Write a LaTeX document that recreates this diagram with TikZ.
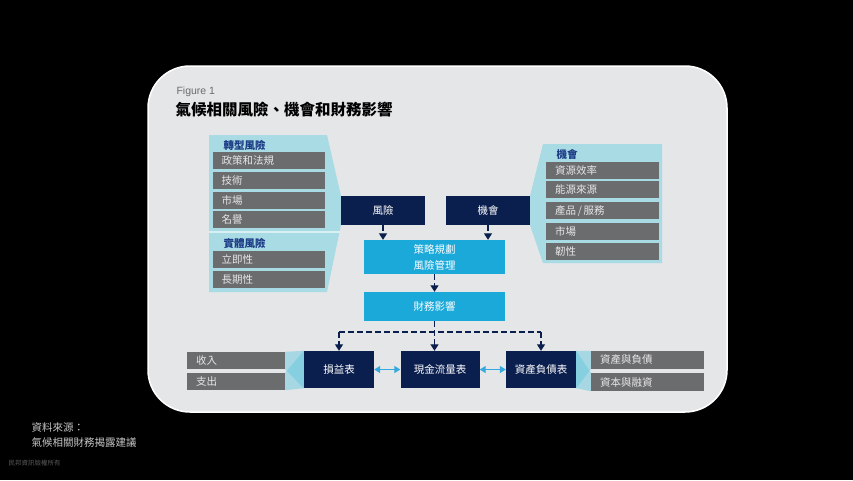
\documentclass[tikz,border=0pt]{standalone}
\usepackage{fontspec}
\setmainfont{Noto Sans CJK TC}
\newfontfamily\latinfont{Liberation Sans}
\usepackage{xcolor}
\usetikzlibrary{arrows.meta}

\definecolor{navybox}{HTML}{0B1F4E}
\definecolor{cyanbox}{HTML}{1BA9D9}
\definecolor{panelcyan}{HTML}{A8DBE4}
\definecolor{funnelcyan}{HTML}{5CC6DE}
\definecolor{graybox}{HTML}{6B6C6E}
\definecolor{grayfont}{HTML}{E6E6E6}
\definecolor{hdrblue}{HTML}{1D3C86}
\definecolor{panelbg}{HTML}{E5E6E8}
\definecolor{dblcyan}{HTML}{35A9DD}

\tikzset{
  graybox/.style={fill=graybox,text=grayfont,minimum height=17pt,inner xsep=9pt,inner ysep=0pt,
    text width=#1,align=left,font=\fontsize{10.5}{12}\selectfont},
  hdr/.style={anchor=west,text=hdrblue,font=\fontsize{10.5}{12}\bfseries},
  navy/.style={fill=navybox,text=white,minimum width=#1,minimum height=29pt,inner sep=0pt,
    font=\fontsize{10.5}{12}\selectfont},
  bluebox/.style={fill=cyanbox,text=white,minimum width=141pt,inner sep=0pt,align=center,
    font=\fontsize{10.5}{16}\selectfont},
  dashline/.style={navybox,line width=1.3pt,dash pattern=on 5.5pt off 3.5pt},
  dasharrow/.style={dashline,-{Triangle[length=6.5pt,width=8pt]}},
  dblarrow/.style={dblcyan,line width=1.3pt,{Triangle[length=6pt,width=7pt]}-{Triangle[length=6pt,width=7pt]}},
  funnel/.style={fill=funnelcyan,fill opacity=0.45}
}

\begin{document}
\begin{tikzpicture}
  [x=1pt,y=-1pt]
  \fill[black] (0,0) rectangle (853,480);
  \useasboundingbox (0,0) rectangle (853,480);

  % card
  \fill[panelbg,rounded corners=42pt] (148,66) rectangle (727,412);
  \draw[white,line width=1.5pt,rounded corners=42pt] (148,66) rectangle (727,412);

  \node[anchor=west,text=gray!85!black,font=\latinfont\fontsize{10.5}{12}\selectfont] (fig) at (173,92) {Figure 1};
  \node[anchor=west,font=\fontsize{15.5}{18}\bfseries] (title) at (172,110) {氣候相關風險、機會和財務影響};

  % side panels
  \fill[panelcyan] (209,135) -- (327,135) -- (341,196) -- (341,225) -- (327,292) -- (209,292) -- cycle;
  \draw[white!55!panelcyan,line width=1.5pt] (209,232) -- (339.5,232);
  \fill[panelcyan] (530,196) -- (543,144) -- (662,144) -- (662,263) -- (543,263) -- (530,225) -- cycle;

  % risks
  \node[hdr] (transition) at (220,145) {轉型風險};
  \foreach \name/\txt/\y in {policy/政策和法規/160.5,tech/技術/180.5,market/市場/200.5,
      reputation/名譽/219.5,acute/立即性/259.5,chronic/長期性/279.5}
    \node[graybox=94pt] (\name) at (268.5,\y) {\txt};
  \node[hdr] (physical) at (220,243) {實體風險};

  % opportunities
  \node[hdr] (opphdr) at (553,154) {機會};
  \foreach \name/\txt/\y in {efficiency/資源效率/170,energy/能源來源/189.5,
      products/{產品\,/\,服務}/210.5,markets/市場/231,resilience/韌性/251}
    \node[graybox=95pt] (\name) at (602.5,\y) {\txt};

  % centre column
  \node[navy=84pt] (risk) at (383,210.5) {風險};
  \node[navy=84pt] (opp) at (488,210.5) {機會};
  \node[bluebox,minimum height=34pt] (strat) at (434.5,257) {策略規劃\\風險管理};
  \node[bluebox,minimum height=29pt] (fin) at (434.5,306.5) {財務影響};

  % statements
  \node[navy=70pt,minimum height=37pt] (pl) at (339,369.5) {損益表};
  \node[navy=79pt,minimum height=37pt] (cash) at (440,369.5) {現金流量表};
  \node[navy=70pt,minimum height=37pt] (bs) at (541,369.5) {資產負債表};
  \node[graybox=80pt] (income) at (236,360.5) {收入};
  \node[graybox=80pt] (expense) at (236,381.5) {支出};
  \node[graybox=95pt,minimum height=18pt] (assets) at (647.5,360) {資產與負債};
  \node[graybox=95pt,minimum height=18pt] (capital) at (647.5,382) {資本與融資};

  \fill[funnel] (income.north east) -- (pl.north west) -- (pl.south west) -- (income.south east) -- cycle;
  \fill[funnel] (expense.north east) -- (pl.north west) -- (pl.south west) -- (expense.south east) -- cycle;
  \fill[funnel] (bs.north east) -- (assets.north west) -- (assets.south west) -- (bs.south east) -- cycle;
  \fill[funnel] (bs.north east) -- (capital.north west) -- (capital.south west) -- (bs.south east) -- cycle;

  % arrows
  \draw[dasharrow] (risk.south) -- (risk.south |- strat.north);
  \draw[dasharrow] (opp.south) -- (opp.south |- strat.north);
  \draw[dasharrow] (strat.south) -- (fin.north);
  \coordinate (bus) at (434.5,332);
  \draw[dasharrow] (fin.south) -- (fin.south |- cash.north);
  \draw[dashline] (pl.north |- bus) -- (bs.north |- bus);
  \draw[dasharrow] (pl.north |- bus) -- (pl.north);
  \draw[dasharrow] (bs.north |- bus) -- (bs.north);
  \foreach \from/\to in {pl/cash,cash/bs}
    \draw[dblarrow] (\from) -- (\to);

  % source
  \node[anchor=west,text=gray!45,font=\fontsize{10.5}{12}\selectfont] (src) at (28,427) {資料來源：};
  \node[anchor=west,text=gray!45,font=\fontsize{10.5}{12}\selectfont] (report) at (28,443) {氣候相關財務揭露建議};
  \node[anchor=west,text=gray!70!black,font=\fontsize{6.5}{8}\selectfont] (rights) at (5,463) {民邦資訊版權所有};
\end{tikzpicture}
\end{document}
